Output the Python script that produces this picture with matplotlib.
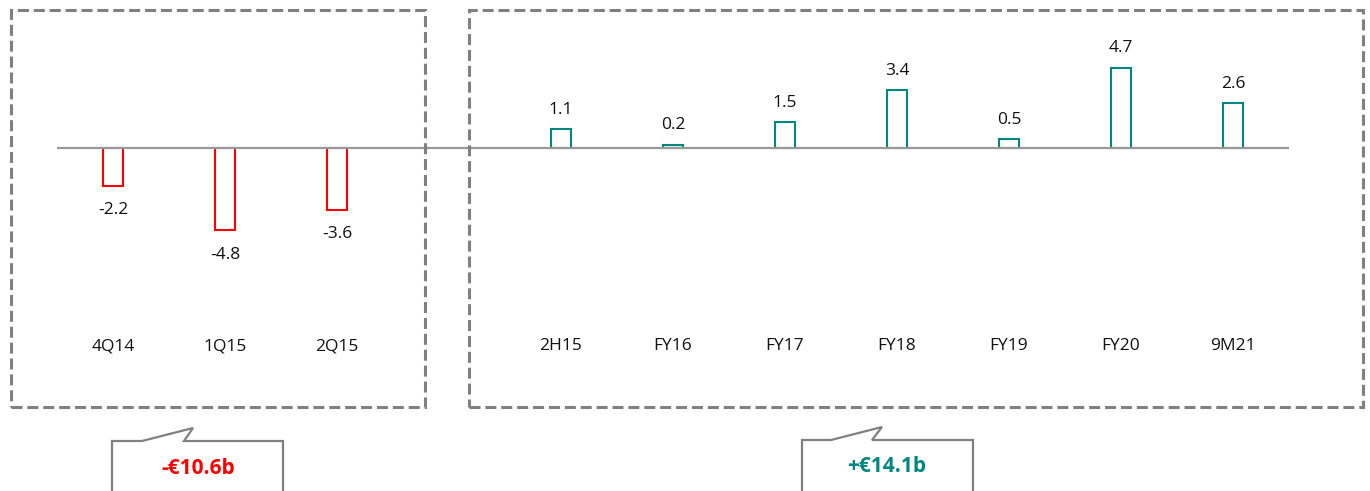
import matplotlib.pyplot as plt
from matplotlib.patches import Rectangle, Polygon

plt.rcParams['font.family'] = ['Open Sans', 'DejaVu Sans']

# data (EUR b)
periods = ["4Q14", "1Q15", "2Q15", "2H15", "FY16", "FY17", "FY18", "FY19", "FY20", "9M21"]
values = [-2.2, -4.8, -3.6, 1.1, 0.2, 1.5, 3.4, 0.5, 4.7, 2.6]
totals = ["-€10.6b", "+€14.1b"]

RED = "#FF0000"
TEAL = "#00877F"
GREY = "#808080"

W, H = 1370, 491
fig = plt.figure(figsize=(W / 100, H / 100), dpi=100)


def fx(px):
    return px / W


def fy(py):
    return 1 - py / H


ax = fig.add_axes([fx(57), 0, fx(1232), 1])
ax.set_xlim(-0.5, 10.5)
ax.set_ylim(-20.06, 8.65)
ax.axis("off")

# gap between the two groups
xs = [i if i < 3 else i + 1 for i in range(len(periods))]
colors = [RED if v < 0 else TEAL for v in values]

ax.bar(xs, values, width=0.17, color="white", edgecolor=colors, linewidth=1.5, zorder=2)
ax.axhline(0, color="#999999", linewidth=1.6, zorder=3)

for x, v, lab in zip(xs, values, periods):
    if v >= 0:
        ax.annotate(f"{v:.1f}", (x, v), xytext=(0, 8), textcoords="offset points",
                    ha="center", va="bottom", fontsize=12.5, color="#111111")
    else:
        ax.annotate(f"{v:.1f}", (x, v), xytext=(0, -12), textcoords="offset points",
                    ha="center", va="top", fontsize=12.5, color="#111111")
    ax.text(x, -11.6, lab, ha="center", va="center", fontsize=12.5, color="#111111")

# dashed group boxes
for x0, x1 in [(11, 425), (469, 1363)]:
    fig.patches.append(Rectangle((fx(x0), fy(407)), fx(x1 - x0), fy(10) - fy(407),
                                 transform=fig.transFigure, fill=False, edgecolor=GREY,
                                 linewidth=2.2, linestyle=(0, (3.6, 1.6))))

# callout bubbles with totals
bubbles = [
    ([(112, 500), (112, 441), (142, 441), (193, 428), (184, 441), (283, 441), (283, 500)], 198, 468, RED),
    ([(802, 500), (802, 440), (831, 440), (882, 427), (872, 440), (973, 440), (973, 500)], 887, 466, TEAL),
]
for (pts, tx, ty, c), txt in zip(bubbles, totals):
    fig.patches.append(Polygon([(fx(a), fy(b)) for a, b in pts], closed=False,
                               transform=fig.transFigure, facecolor="white",
                               edgecolor=GREY, linewidth=1.6))
    fig.text(fx(tx), fy(ty), txt, ha="center", va="center", fontsize=15,
             fontweight="bold", color=c)

fig.savefig("out.png", dpi=100)
